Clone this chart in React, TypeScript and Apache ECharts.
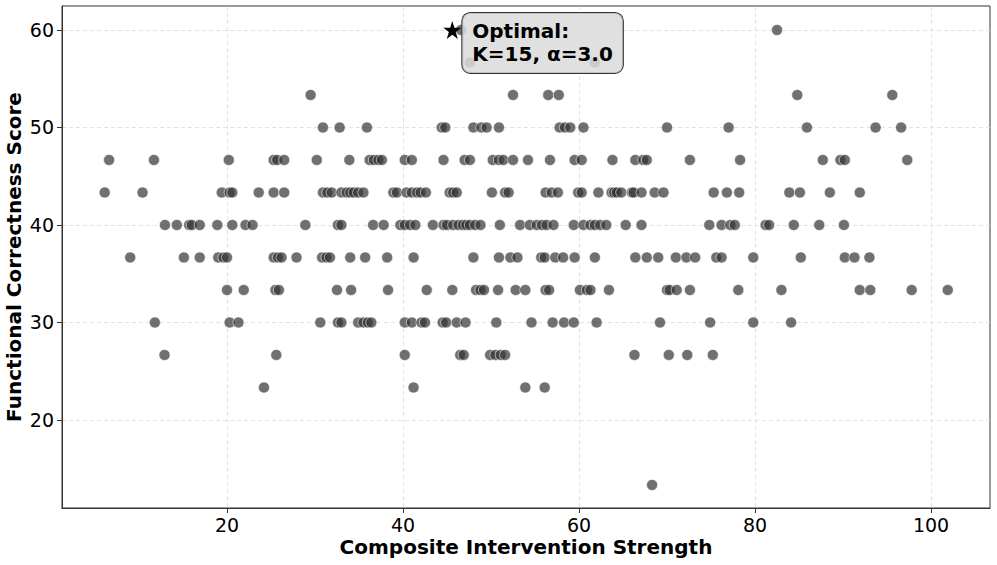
import React, { useEffect, useRef } from "react";
import * as echarts from "echarts";

// x values (Composite Intervention Strength) grouped by score level
const row60 = [46.6, 82.5];
const row56_7 = [47.6, 61.8];
const row53_3 = [29.5, 52.5, 56.5, 57.7, 84.8, 95.6];
const row50 = [30.9, 32.8, 35.9, 44.4, 44.8, 48.0, 48.9, 49.5, 50.9, 57.8, 58.4, 59.0, 60.5, 70.0, 77.0, 85.9, 93.7, 96.6];
const row46_7 = [6.6, 11.7, 20.2, 25.3, 25.7, 26.5, 30.2, 33.9, 36.2, 36.7, 37.2, 37.6, 40.2, 41.0, 44.6, 47.0, 47.6, 50.2, 50.9, 51.4, 52.5, 54.2, 56.7, 59.5, 60.3, 63.8, 66.4, 67.3, 67.7, 72.6, 78.3, 87.7, 89.7, 90.2, 97.3];
const row43_3 = [6.1, 10.4, 19.4, 20.3, 20.6, 23.6, 25.3, 26.5, 30.9, 31.4, 31.9, 33.0, 33.6, 34.0, 34.4, 34.9, 35.5, 38.9, 39.3, 40.4, 41.0, 41.6, 42.0, 42.6, 45.3, 45.7, 46.1, 50.1, 51.6, 52.0, 56.2, 56.9, 57.6, 59.9, 60.3, 62.2, 63.7, 64.0, 64.3, 64.8, 66.0, 66.2, 67.1, 68.6, 69.6, 75.3, 76.8, 78.2, 83.9, 85.1, 88.5, 91.9];
const row40 = [12.95, 14.3, 15.7, 16.0, 16.9, 18.9, 20.6, 22.1, 22.9, 28.9, 32.6, 33.0, 36.6, 37.8, 39.7, 40.2, 40.8, 41.4, 43.4, 44.6, 45.0, 45.7, 46.3, 46.8, 47.2, 47.6, 48.2, 48.8, 51.0, 53.3, 54.4, 55.2, 55.8, 56.3, 57.1, 59.4, 60.5, 61.3, 61.8, 62.4, 63.1, 65.3, 67.1, 74.8, 76.2, 77.2, 77.7, 81.2, 81.6, 84.4, 87.3, 90.1];
const row36_7 = [9.0, 15.1, 16.9, 19.0, 19.6, 20.0, 25.3, 25.8, 26.2, 27.9, 30.8, 31.3, 31.7, 34.0, 35.7, 38.2, 41.2, 48.0, 50.9, 52.2, 53.0, 55.7, 56.1, 57.3, 58.2, 59.5, 61.8, 66.4, 67.7, 69.0, 71.0, 72.2, 73.2, 75.6, 76.2, 79.8, 85.2, 90.2, 91.3, 93.0];
const row33_3 = [20.0, 21.9, 25.5, 25.9, 32.5, 34.1, 38.3, 42.7, 45.6, 48.3, 48.8, 49.2, 50.8, 52.8, 53.9, 56.2, 56.6, 60.1, 60.9, 61.3, 63.4, 70.0, 70.3, 71.1, 72.6, 78.1, 83.0, 91.9, 93.1, 97.8, 101.9];
const row30 = [11.8, 20.3, 21.3, 30.6, 32.6, 33.0, 34.9, 35.5, 36.0, 36.4, 40.2, 41.0, 42.1, 42.5, 44.5, 44.9, 46.1, 47.1, 50.6, 54.6, 57.0, 58.3, 59.4, 62.0, 69.2, 74.9, 79.8, 84.1];
const row26_7 = [12.9, 25.6, 40.2, 46.5, 46.9, 49.9, 50.5, 51.1, 51.6, 66.3, 70.2, 72.3, 75.2];
const row23_3 = [24.2, 41.2, 53.9, 56.1];
const row13_3 = [68.3];

const scoreLevels = [60, 56.67, 53.33, 50, 46.67, 43.33, 40, 36.67, 33.33, 30, 26.67, 23.33, 13.33];
const rows = [row60, row56_7, row53_3, row50, row46_7, row43_3, row40, row36_7, row33_3, row30, row26_7, row23_3, row13_3];

const optimalPoint = [45.6, 60];
const optimalLabel = "Optimal:\nK=15, α=3.0";

const xTicks = [20, 40, 60, 80, 100];
const yTicks = [20, 30, 40, 50, 60];

const STAR = "path://M50,0 L61.2,34.5 L97.6,34.5 L68.2,55.9 L79.4,90.5 L50,69.1 L20.6,90.5 L31.8,55.9 L2.4,34.5 L38.8,34.5 Z";

export default function App() {
  const ref = useRef<HTMLDivElement>(null);
  useEffect(() => {
    if (!ref.current) return;
    const chart = echarts.init(ref.current, undefined, { renderer: "svg" });
    const points: number[][] = [];
    rows.forEach((r, i) => r.forEach((x) => points.push([x, scoreLevels[i]])));
    const font = "DejaVu Sans";
    chart.setOption({
      animation: false,
      backgroundColor: "#ffffff",
      grid: {
        left: 62,
        right: 7,
        top: 6,
        bottom: 57,
        outerBoundsMode: "none",
        containLabel: false,
        show: true,
        borderColor: "#333",
        borderWidth: 1,
        backgroundColor: "transparent",
      },
      xAxis: {
        type: "value",
        min: 1.25,
        max: 106.7,
        name: "Composite Intervention Strength",
        nameLocation: "middle",
        nameGap: 29,
        nameMoveOverlap: false,
        nameTextStyle: { fontFamily: font, fontSize: 20, fontWeight: "bold", color: "#000" },
        axisLine: { show: true, lineStyle: { color: "#333", width: 1 } },
        axisTick: { show: true, length: 5, lineStyle: { color: "#333" }, customValues: xTicks },
        axisLabel: { fontFamily: font, fontSize: 19, color: "#000", margin: 7, customValues: xTicks },
        splitLine: { show: true, lineStyle: { color: "#dcdcdc", type: [4, 3], width: 0.8 } },
      },
      yAxis: {
        type: "value",
        min: 10.97,
        max: 62.46,
        name: "Functional Correctness Score",
        nameLocation: "middle",
        nameGap: 38,
        nameMoveOverlap: false,
        nameTextStyle: { fontFamily: font, fontSize: 20, fontWeight: "bold", color: "#000" },
        axisLine: { show: true, lineStyle: { color: "#333", width: 1 } },
        axisTick: { show: true, length: 5, lineStyle: { color: "#333" }, customValues: yTicks },
        axisLabel: { fontFamily: font, fontSize: 19, color: "#000", margin: 8, customValues: yTicks },
        splitLine: { show: true, lineStyle: { color: "#dcdcdc", type: [4, 3], width: 0.8 } },
      },
      series: [
        {
          type: "scatter",
          data: points,
          symbolSize: 11,
          itemStyle: { color: "#333333", opacity: 0.7, borderColor: "#ffffff", borderWidth: 0.8 },
          z: 2,
        },
        {
          type: "scatter",
          data: [optimalPoint],
          symbol: STAR,
          symbolSize: 18,
          itemStyle: { color: "#000", opacity: 1 },
          z: 5,
          label: {
            show: true,
            position: "right",
            distance: 1,
            offset: [0, 13],
            formatter: optimalLabel,
            fontFamily: font,
            fontSize: 20,
            fontWeight: "bold",
            color: "#000",
            opacity: 1,
            lineHeight: 23,
            padding: [7, 10, 7, 10],
            backgroundColor: "rgba(218,218,218,0.85)",
            borderColor: "#333",
            borderWidth: 1,
            borderRadius: 8,
          },
        },
      ],
    });
    return () => chart.dispose();
  }, []);
  return <div ref={ref} style={{ width: 997, height: 565, position: "absolute", left: 0, top: 0 }} />;
}
